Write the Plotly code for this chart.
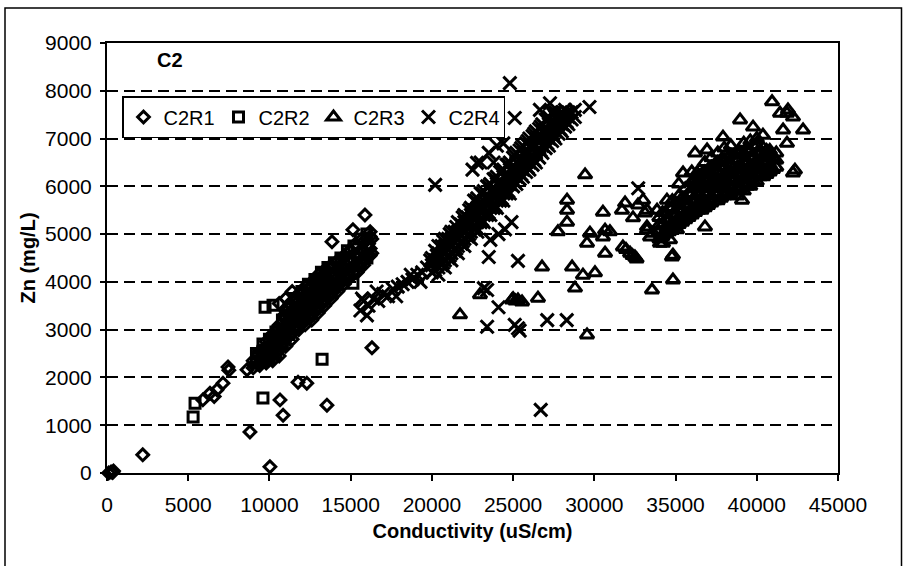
import plotly.graph_objects as go

# ---------------- data ----------------
# scattered points, per series
r1_x = [100, 250, 350, 400, 2200, 5900, 6340, 6600, 6770, 7140, 7450, 7500, 8620, 8800, 10030, 10650, 10840,
        11760, 12300, 13540, 16310, 13850, 15140, 15880, 10600, 11000, 11400, 16300, 16300, 16200]
r1_y = [0, 20, 10, 40, 380, 1530, 1670, 1600, 1740, 1880, 2220, 2150, 2160, 860, 130, 1530, 1210,
        1900, 1880, 1420, 2620, 4840, 5090, 5400, 3550, 3650, 3800, 4600, 4900, 5050]
# dense cloud, read column by column: (conductivity, [Zn values])
r1_cols = [(9000, [2200, 2350]), (9400, [2250, 2400, 2550]), (9800, [2300, 2450, 2600, 2750]),
           (10200, [2350, 2500, 2650, 2800, 2900]), (10600, [2450, 2600, 2750, 2900, 3100]),
           (11000, [2650, 2800, 2950, 3100, 3250, 3400]), (11400, [2800, 2950, 3100, 3250, 3400, 3600]),
           (11800, [3000, 3150, 3300, 3450, 3600, 3750]), (12200, [3100, 3250, 3400, 3550, 3700, 3900]),
           (12600, [3200, 3350, 3500, 3650, 3800, 4000]), (13000, [3350, 3500, 3650, 3800, 3950, 4150]),
           (13400, [3500, 3650, 3800, 3950, 4100, 4250]), (13800, [3650, 3800, 3950, 4100, 4350]),
           (14200, [3800, 3950, 4100, 4250, 4450]), (14600, [3950, 4100, 4250, 4400, 4550]),
           (15000, [4100, 4250, 4400, 4650]), (15400, [4200, 4350, 4500, 4750]),
           (15800, [4350, 4500, 4650, 4850]), (16200, [4550, 4700, 4950]),
           (9300, [2280, 2480]), (9700, [2380, 2620]), (10100, [2450, 2700, 2880]),
           (10500, [2550, 2800, 3050]), (10900, [2750, 3000, 3300]), (11300, [2900, 3200, 3500]),
           (11700, [3050, 3350, 3650]), (12100, [3150, 3450, 3800]), (12500, [3250, 3600, 3900]),
           (12900, [3400, 3700, 4050]), (13300, [3550, 3850, 4150]), (13700, [3700, 4000, 4300]),
           (14100, [3850, 4150, 4400]), (14500, [4000, 4300, 4500]), (14900, [4150, 4450, 4650]),
           (15300, [4250, 4550, 4800]), (15700, [4400, 4650, 4900]), (16100, [4550, 4800])]

r2_x = [5300, 5420, 9600, 13240, 9730, 10220, 15140]
r2_y = [1170, 1460, 1570, 2380, 3470, 3510, 3970]
r2_cols = [(9200, [2300, 2500]), (9600, [2350, 2550, 2700]), (10000, [2400, 2600, 2800]),
           (10400, [2500, 2700, 2950]), (10800, [2700, 2900, 3200]), (11200, [2900, 3150, 3450]),
           (11600, [3050, 3350, 3650]), (12000, [3200, 3500, 3800]), (12400, [3300, 3600, 3950]),
           (12800, [3450, 3750, 4050]), (13200, [3600, 3900, 4200]), (13600, [3750, 4000, 4300]),
           (14000, [3900, 4150, 4400]), (14400, [4050, 4300, 4500]), (14800, [4150, 4400, 4650]),
           (15200, [4250, 4500, 4750]), (15600, [4400, 4600, 4900]), (16000, [4500, 4750, 5000])]

r3_x = [21730, 22960, 24930, 25000, 25150, 25300, 25550, 26530, 26780, 27760, 28320, 28320, 28320, 29430,
        28630, 29300, 30040, 28810, 29550, 29550, 30530, 30660, 29730, 30530, 30960, 30660, 31700, 31890,
        31760, 31950, 32200, 32350, 32500, 32600, 32380, 33000, 33120, 33240, 33610, 34230, 34780, 34840,
        34840, 33550, 33860, 34470, 34470, 35090, 34660, 36810, 39090, 32690, 33240, 33240, 33430, 34040,
        35460, 36200, 36320, 36940, 37920, 38970, 39770, 40380, 40940, 41920, 42230, 41860, 42850, 41620,
        41860, 42350, 40820, 41120, 42230, 41430,
        36000, 36800, 37600, 38400, 39200, 40000, 38000, 39600, 35200, 37200]
r3_y = [3310, 3730, 3620, 3650, 3600, 3620, 3580, 3660, 4310, 5050, 5250, 5500, 5710, 6240,
        4310, 4140, 4190, 3870, 4810, 2890, 5460, 5080, 5020, 4940, 5050, 4600, 5500, 5650,
        4730, 4680, 4600, 4550, 4520, 4480, 5340, 5710, 5440, 5090, 5020, 4810, 4520, 4560,
        4040, 3830, 5500, 5710, 5090, 5090, 4880, 5150, 5710, 5610, 5500, 5150, 4940, 4810,
        6280, 6700, 6280, 6760, 7030, 7390, 7240, 7070, 7770, 7600, 7450, 7530, 7180, 7180,
        6900, 6340, 6700, 6550, 6280, 7530,
        6300, 6500, 6700, 6850, 6900, 7000, 6800, 6950, 6050, 6600]
r3_cols = [(34000, [4900, 5050, 5200, 5350]), (34400, [5000, 5150, 5300, 5450]),
           (34800, [5100, 5250, 5400, 5550, 5700]), (35200, [5200, 5350, 5500, 5650, 5800]),
           (35600, [5300, 5450, 5600, 5750, 5950]), (36000, [5400, 5550, 5700, 5850, 6100]),
           (36400, [5500, 5650, 5800, 5950, 6200]), (36800, [5550, 5700, 5850, 6000, 6150, 6300]),
           (37200, [5650, 5800, 5950, 6100, 6250, 6400]), (37600, [5700, 5850, 6000, 6150, 6300, 6500]),
           (38000, [5800, 5950, 6100, 6250, 6400, 6550]), (38400, [5850, 6000, 6150, 6300, 6450, 6650]),
           (38800, [5800, 5950, 6100, 6250, 6400, 6550, 6700]), (39200, [5900, 6050, 6200, 6350, 6500, 6700]),
           (39600, [6000, 6150, 6300, 6450, 6600, 6750]), (40000, [6100, 6250, 6400, 6550, 6700, 6850]),
           (40400, [6200, 6350, 6500, 6650, 6800]), (40800, [6300, 6450, 6600, 6750]),
           (41200, [6400, 6550, 6700]),
           (34200, [4950, 5200, 5450]), (34600, [5050, 5300, 5550]), (35000, [5150, 5400, 5650]),
           (35400, [5250, 5500, 5750]), (35800, [5350, 5600, 5850]), (36200, [5450, 5700, 5950, 6150]),
           (36600, [5500, 5750, 6000, 6250]), (37000, [5600, 5850, 6100, 6350]),
           (37400, [5700, 5950, 6200, 6450]), (37800, [5750, 6000, 6250, 6550]),
           (38200, [5850, 6100, 6350, 6600]), (38600, [5900, 6150, 6400, 6650]),
           (39000, [5950, 6200, 6450, 6700]), (39400, [6000, 6250, 6500, 6750]),
           (39800, [6100, 6350, 6600, 6850]), (40200, [6200, 6450, 6700]),
           (40600, [6250, 6500, 6750]), (41000, [6350, 6600])]

r4_x = [15600, 15800, 16100, 16400, 16700, 17000, 17300, 17600, 17900, 18200, 18500, 18800, 19100, 19400,
        19700, 16600, 17800, 18700, 19300, 19900, 16000, 15700,
        22500, 23000, 23500, 24000, 24400, 23800, 22780, 26650, 27270,
        23600, 24100, 24500, 24900,
        20200, 24800, 25100, 29700, 32700, 23400, 25300, 23400, 25300, 25100, 25400, 24100, 23200,
        27100, 28300, 26700, 23500]
r4_y = [3400, 3600, 3500, 3650, 3600, 3750, 3700, 3850, 3900, 3950, 4000, 4050, 4150, 4200,
        4300, 3800, 3700, 4150, 4000, 4450, 3300, 3650,
        6350, 6500, 6700, 6850, 6900, 6500, 6490, 7600, 7740,
        4880, 5000, 5100, 5250,
        6030, 8160, 7430, 7660, 5960, 3830, 4440, 3060, 3030, 3100, 2980, 3470, 3870,
        3200, 3200, 1320, 4520]
r4_cols = [(20000, [4200, 4350, 4500]), (20400, [4150, 4300, 4450, 4600, 4750]),
           (20800, [4300, 4450, 4600, 4750, 4900]), (21200, [4450, 4600, 4750, 4900, 5050]),
           (21600, [4600, 4750, 4900, 5050, 5250]), (22000, [4750, 4900, 5100, 5250, 5400]),
           (22400, [4900, 5050, 5250, 5400, 5550]), (22800, [5050, 5250, 5400, 5550, 5750]),
           (23200, [5250, 5400, 5550, 5700, 5900]), (23600, [5400, 5550, 5700, 5900, 6050]),
           (24000, [5550, 5700, 5900, 6050, 6200]), (24400, [5700, 5850, 6050, 6200, 6350]),
           (24800, [5850, 6050, 6200, 6350, 6500]), (25200, [6050, 6200, 6350, 6500, 6700]),
           (25600, [6200, 6350, 6500, 6700, 6850]), (26000, [6350, 6500, 6700, 6850, 7000]),
           (26400, [6500, 6700, 6850, 7000, 7150]), (26800, [6700, 6850, 7000, 7150, 7300]),
           (27200, [6850, 7000, 7150, 7300, 7450]), (27600, [7000, 7150, 7300, 7450, 7550]),
           (28000, [7150, 7300, 7450, 7550]), (28400, [7300, 7450, 7550]), (28800, [7450, 7600]),
           (20200, [4250, 4450, 4650]), (20600, [4350, 4550, 4750]), (21000, [4500, 4700, 4900]),
           (21400, [4650, 4850, 5050]), (21800, [4800, 5000, 5200]), (22200, [4950, 5150, 5350]),
           (22600, [5100, 5300, 5500, 5700]), (23000, [5250, 5450, 5650, 5850]),
           (23400, [5400, 5600, 5800, 6000]), (23800, [5550, 5750, 5950, 6150]),
           (24200, [5700, 5900, 6100, 6300]), (24600, [5850, 6050, 6250, 6450]),
           (25000, [6000, 6200, 6400, 6600]), (25400, [6150, 6350, 6550, 6750]),
           (25800, [6300, 6500, 6700, 6900]), (26200, [6450, 6650, 6850, 7050]),
           (26600, [6600, 6800, 7000, 7200]), (27000, [6800, 7000, 7200, 7400]),
           (27400, [6950, 7150, 7350, 7550]), (27800, [7100, 7300, 7500]),
           (28200, [7250, 7450, 7600]), (28600, [7400, 7550]),
           (20300, [4350, 4550]), (20700, [4400, 4650, 4850]), (21100, [4550, 4800, 5000]),
           (21500, [4700, 4950, 5150]), (21900, [4850, 5100, 5350]), (22300, [5000, 5250, 5500]),
           (22700, [5150, 5450, 5700]), (23100, [5300, 5600, 5850]), (23500, [5450, 5750, 6000]),
           (23900, [5600, 5900, 6150]), (24300, [5750, 6050, 6300]), (24700, [5900, 6200, 6450]),
           (25100, [6100, 6400, 6650]), (25500, [6250, 6550, 6800]), (25900, [6400, 6700, 6950]),
           (26300, [6550, 6850, 7100]), (26700, [6750, 7050, 7250]), (27100, [6900, 7200, 7400]),
           (27500, [7050, 7350, 7500]), (27900, [7200, 7450]), (28300, [7350, 7550])]

series_names = ["C2R1", "C2R2", "C2R3", "C2R4"]
x_ticks = [0, 5000, 10000, 15000, 20000, 25000, 30000, 35000, 40000, 45000]
y_ticks = [0, 1000, 2000, 3000, 4000, 5000, 6000, 7000, 8000, 9000]


def combine(xs, ys, cols):
    ox, oy = list(xs), list(ys)
    for cx, cys in cols:
        for cy in cys:
            ox.append(cx)
            oy.append(cy)
    return ox, oy


# ---------------- figure ----------------
FONT = "Arial, Liberation Sans, Helvetica, sans-serif"
W, H = 903, 566
L, R, T, B = 107, 838, 43, 473

specs = [
    (combine(r1_x, r1_y, r1_cols), "diamond-open", 9),
    (combine(r2_x, r2_y, r2_cols), "square-open", 10),
    (combine(r3_x, r3_y, r3_cols), "triangle-up-open", 12),
    (combine(r4_x, r4_y, r4_cols), "x-thin-open", 13),
]

fig = go.Figure()
for name, ((xs, ys), sym, sz) in zip(series_names, specs):
    fig.add_trace(go.Scatter(
        x=xs, y=ys, mode="markers", name=name, cliponaxis=False,
        marker=dict(symbol=sym, size=sz, color="black",
                    line=dict(color="black", width=3)),
    ))

fig.update_layout(
    width=W, height=H,
    margin=dict(l=L, r=W - R, t=T, b=H - B, pad=0),
    paper_bgcolor="white", plot_bgcolor="white",
    font=dict(family=FONT, size=20, color="black"),
    showlegend=True,
    legend=dict(
        orientation="h", x=(122 - L) / (R - L), y=(B - 96) / (B - T),
        xanchor="left", yanchor="top",
        bgcolor="white", bordercolor="black", borderwidth=1.5,
        font=dict(family=FONT, size=20, color="black"),
        itemwidth=30, tracegroupgap=0,
        entrywidth=50, entrywidthmode="pixels",
    ),
    xaxis=dict(
        range=[0, 45000], tickvals=x_ticks, ticktext=[str(v) for v in x_ticks],
        showgrid=False, zeroline=False,
        showline=True, linecolor="black", linewidth=2, mirror=True,
        ticks="outside", ticklen=6, tickwidth=1.5, tickcolor="black",
        tickfont=dict(family=FONT, size=21, color="black"),
        ticklabelstandoff=6,
        title=dict(text="<b>Conductivity (uS/cm)</b>", font=dict(family=FONT, size=20, color="black"),
                   standoff=9),
    ),
    yaxis=dict(
        range=[0, 9000], tickvals=y_ticks, ticktext=[str(v) for v in y_ticks],
        showgrid=True, gridcolor="black", gridwidth=1.5, griddash="11px,6px",
        zeroline=False,
        showline=True, linecolor="black", linewidth=2, mirror=True,
        ticks="outside", ticklen=5, tickwidth=1.5, tickcolor="black",
        tickfont=dict(family=FONT, size=21, color="black"),
        ticklabelstandoff=4,
        title=dict(text="<b>Zn (mg/L)</b>", font=dict(family=FONT, size=20, color="black"),
                   standoff=4),
    ),
    annotations=[
        dict(text="<b>C2</b>", xref="paper", yref="paper",
             x=(170 - L) / (R - L), y=(B - 60) / (B - T), xanchor="center", yanchor="middle",
             showarrow=False, font=dict(family=FONT, size=20, color="black")),
    ],
    shapes=[
        dict(type="rect", xref="paper", yref="paper",
             x0=(5 - L) / (R - L), x1=(901.5 - L) / (R - L),
             y0=(B - 575) / (B - T), y1=(B - 8) / (B - T),
             line=dict(color="black", width=1.5), fillcolor="rgba(0,0,0,0)", layer="below"),
    ],
)

fig.write_html("out.html")
